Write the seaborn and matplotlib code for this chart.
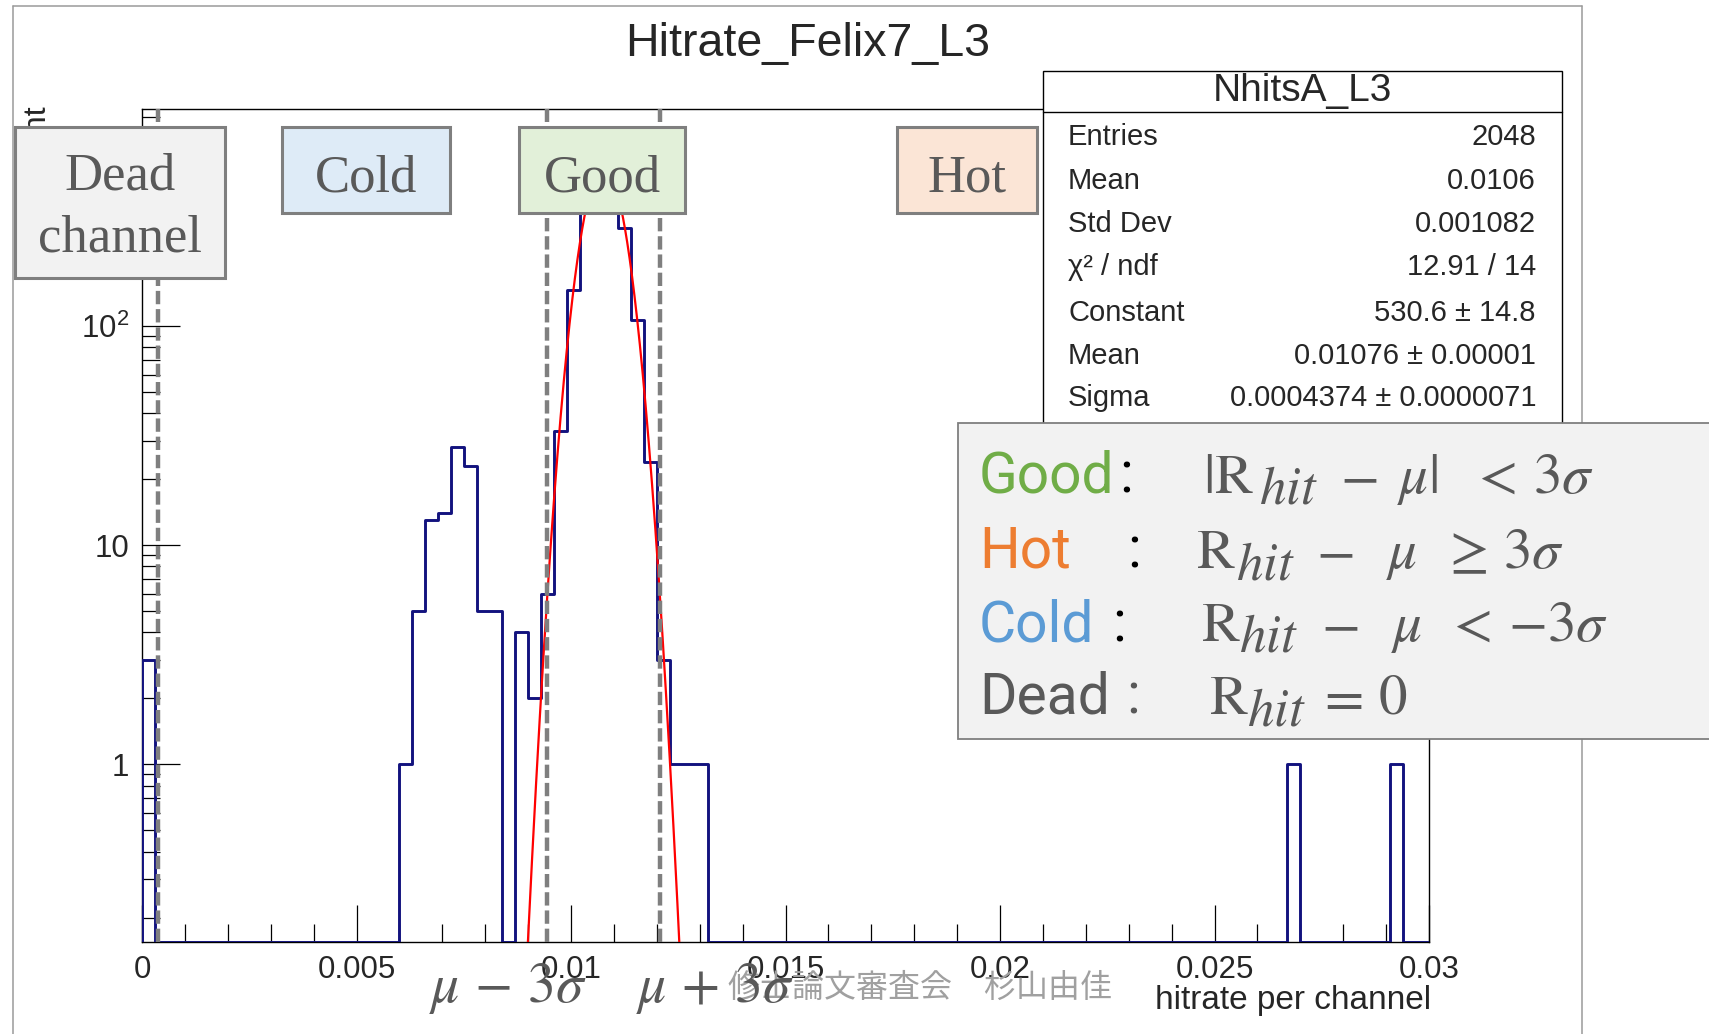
import numpy as np
import pandas as pd
import matplotlib
matplotlib.use("Agg")
import matplotlib.pyplot as plt
import seaborn as sns
from matplotlib.patches import Rectangle
from matplotlib.lines import Line2D
from matplotlib.ticker import FixedLocator, FixedFormatter, MultipleLocator, LogLocator, NullFormatter

# ---- histogram content: 100 bins of width 0.0003 on [0, 0.03]; only filled bins listed ----
bin_width = 0.0003
n_bins = 100
filled_bins = [0, 20, 21, 22, 23, 24, 25, 26, 27, 29, 30, 31, 32, 33, 34, 35, 36,
               37, 38, 39, 40, 41, 42, 43, 89, 97]
filled_counts = [3, 1, 5, 13, 14, 28, 23, 5, 5, 4, 2, 6, 33, 145, 345, 515, 483,
                 280, 106, 24, 3, 1, 1, 1, 1, 1]

# ---- gaussian fit result ----
fit_constant = 530.6
fit_mean = 0.01076
fit_sigma = 0.0004374
fit_range = (0.0089, 0.0127)
dead_cut = 0.00038

# ---- axis ticks ----
x_ticks = [0, 0.005, 0.01, 0.015, 0.02, 0.025, 0.03]
x_tick_labels = ["0", "0.005", "0.01", "0.015", "0.02", "0.025", "0.03"]
y_ticks = [1, 10, 100]
y_tick_labels = ["1", "10", r"$\mathregular{10^{2}}$"]
y_range = (0.155, 975)

# ---- stats box ----
stats_title = "NhitsA_L3"
stats_names = ["Entries", "Mean", "Std Dev", "χ² / ndf", "Constant", "Mean", "Sigma"]
stats_values = ["2048", "0.0106", "0.001082", "12.91 / 14", "530.6 ± 14.8",
                "0.01076 ± 0.00001", "0.0004374 ± 0.0000071"]

# ---- classification labels ----
class_names = ["Good", "Hot", "Cold", "Dead"]
class_colors = ["#70ad47", "#ed7d31", "#5b9bd5", "#595959"]
# each rule written as (symbol before the subscript, symbols after it)
class_rules = [
    [r"$|\mathrm{R}$", r"$-$", r"$\mu|$", r"$<$", r"$3\sigma$"],
    [r"$\mathrm{R}$", r"$-$", r"$\mu$", r"$\geq$", r"$3\sigma$"],
    [r"$\mathrm{R}$", r"$-$", r"$\mu$", r"$<$", r"$-3\sigma$"],
    [r"$\mathrm{R}$", r"$=$", r"$0$"],
]
rate_subscript = r"$hit$"

W, H = 1709, 1034


def fx(x):
    return x / W


def fy(y):
    return 1 - y / H


sns.set_theme(style="ticks")
plt.rcParams.update({
    "font.family": ["Liberation Sans", "DejaVu Sans"],
    "mathtext.fontset": "stix",
    "axes.linewidth": 1.0,
    "axes.edgecolor": "black",
    "figure.facecolor": "white",
    "axes.facecolor": "white",
})

fig = plt.figure(figsize=(W / 100, H / 100), dpi=100)
ax = fig.add_axes([fx(142), fy(942), fx(1429) - fx(142), fy(109) - fy(942)])

# histogram outline (empty bins sit on the frame bottom)
counts = np.zeros(n_bins)
counts[filled_bins] = filled_counts
edges = np.arange(n_bins + 1) * bin_width
shown = np.where(counts > 0, counts, y_range[0])
hist_df = pd.DataFrame({
    "hitrate": np.concatenate([[0.0], edges]),
    "entries": np.concatenate([[y_range[0]], shown, [y_range[0]]]),
})
sns.lineplot(data=hist_df, x="hitrate", y="entries", ax=ax, sort=False,
             estimator=None, drawstyle="steps-post", color="#12127e", lw=2.1, zorder=3)

# gaussian fit curve
xs = np.linspace(fit_range[0], fit_range[1], 400)
fit_df = pd.DataFrame({"hitrate": xs,
                       "entries": fit_constant * np.exp(-0.5 * ((xs - fit_mean) / fit_sigma) ** 2)})
sns.lineplot(data=fit_df, x="hitrate", y="entries", ax=ax, color="red", lw=1.6, zorder=4)

ax.set_yscale("log")
ax.set_xlim(0, 0.03)
ax.set_ylim(*y_range)

# threshold lines: dead cut and mu +/- 3 sigma
for xv in [dead_cut, fit_mean - 3 * fit_sigma, fit_mean + 3 * fit_sigma]:
    ax.axvline(xv, color="#7f7f7f", lw=3.2, dashes=(3.0, 1.1), zorder=5)

ax.xaxis.set_major_locator(FixedLocator(x_ticks))
ax.xaxis.set_major_formatter(FixedFormatter(x_tick_labels))
ax.xaxis.set_minor_locator(MultipleLocator(0.001))
ax.yaxis.set_major_locator(FixedLocator(y_ticks))
ax.yaxis.set_major_formatter(FixedFormatter(y_tick_labels))
ax.yaxis.set_minor_locator(LogLocator(base=10, subs=np.arange(2, 10)))
ax.yaxis.set_minor_formatter(NullFormatter())
ax.tick_params(which="both", direction="in", top=False, right=False, width=0.9, color="black")
ax.tick_params(which="major", length=27, labelsize=22.5, pad=9)
ax.tick_params(which="minor", length=13)
ax.set_xlabel("")
ax.set_ylabel("")
for sp in ax.spines.values():
    sp.set_linewidth(1.0)

# canvas border
for (x0, y0, x1, y1) in [(13, 5.5, 13, 1040), (13, 5.5, 1582, 5.5), (1582, 5.5, 1582, 1040)]:
    fig.add_artist(Line2D([fx(x0), fx(x1)], [fy(y0), fy(y1)], color="#9a9a9a", lw=1.1, zorder=1))

# title, axis titles
fig.text(fx(808), fy(44), "Hitrate_Felix7_L3", ha="center", va="center", fontsize=33.5)
fig.text(fx(1431), fy(1001), "hitrate per channel", ha="right", va="center", fontsize=24)
fig.text(fx(36), fy(104), "Count", rotation=90, ha="center", va="top", fontsize=23, zorder=2)

# stats box
fig.add_artist(Rectangle((fx(1043), fy(430)), fx(1562) - fx(1043), fy(71) - fy(430),
                         transform=fig.transFigure, facecolor="white", edgecolor="black",
                         lw=1.0, zorder=6))
fig.add_artist(Line2D([fx(1043), fx(1562)], [fy(112), fy(112)], color="black", lw=1.0, zorder=7))
fig.text(fx(1302), fy(91), stats_title, ha="center", va="center", fontsize=28, zorder=7)
row_y = [137, 181, 224.5, 267, 313, 356, 398]
for name, val, yy in zip(stats_names, stats_values, row_y):
    fig.text(fx(1068), fy(yy), name, ha="left", va="center", fontsize=21, zorder=7)
    fig.text(fx(1536), fy(yy), val, ha="right", va="center", fontsize=21, zorder=7)

# category tags above the histogram
tags = [(["Dead", "channel"], [189, 252], (15, 127, 225, 278), "#f2f2f2"),
        (["Cold"], [191], (282, 127, 450, 213), "#deebf7"),
        (["Good"], [191], (519, 127, 685, 213), "#e2f0d9"),
        (["Hot"], [191], (897, 127, 1037, 213), "#fbe5d6")]
for lines, bases, (x0, y0, x1, y1), bg in tags:
    fig.add_artist(Rectangle((fx(x0), fy(y1)), fx(x1) - fx(x0), fy(y0) - fy(y1),
                             transform=fig.transFigure, facecolor=bg, edgecolor="#7f7f7f",
                             lw=2.2, zorder=8))
    for line, yb in zip(lines, bases):
        fig.text(fx((x0 + x1) / 2), fy(yb), line, ha="center", va="baseline",
                 fontsize=38, family="Liberation Serif", color="#595959", zorder=9)

# classification rules box
fig.add_artist(Rectangle((fx(958), fy(739)), fx(1730) - fx(958), fy(423) - fy(739),
                         transform=fig.transFigure, facecolor="#f2f2f2", edgecolor="#7f7f7f",
                         lw=1.3, zorder=10))
rule_base = [493, 568, 641, 714]
colon_x = [1119, 1127, 1112, 1126]
colon_colors = ["black", "black", "black", "#595959"]
# x of each rule piece; the subscript sits after the first piece
piece_x = [[1203, 1340, 1397, 1470, 1533],
           [1196, 1316, 1386, 1441, 1503],
           [1201, 1321, 1391, 1445, 1508],
           [1209, 1316, 1378]]
sub_x = [1259, 1236, 1239, 1247]
for name, col, yb, cx, cc, pieces, pxs, sx in zip(class_names, class_colors, rule_base,
                                                  colon_x, colon_colors, class_rules,
                                                  piece_x, sub_x):
    fig.text(fx(979), fy(yb), name, ha="left", va="baseline", fontsize=41,
             family="Roboto", color=col, zorder=11)
    fig.text(fx(cx), fy(yb), ":", ha="left", va="baseline", fontsize=41,
             family="Roboto", color=cc, zorder=11)
    for piece, px in zip(pieces, pxs):
        fig.text(fx(px), fy(yb), piece, ha="left", va="baseline", fontsize=41,
                 color="#595959", zorder=11)
    fig.text(fx(sx), fy(yb + 11), rate_subscript, ha="left", va="baseline", fontsize=38,
             color="#595959", zorder=11)

# footer and threshold annotations under the axis
fig.text(fx(728), fy(988), "修士論文審査会　杉山由佳", ha="left", va="center", fontsize=23,
         family=["Noto Sans CJK JP", "DejaVu Sans"], color="#a0a0a0", zorder=11)
fig.text(fx(429), fy(1002), r"$\mu\,-\,\mathit{3}\sigma$", ha="left", va="baseline",
         fontsize=40, color="#595959", zorder=12)
fig.text(fx(636), fy(1002), r"$\mu\,+\,\mathit{3}\sigma$", ha="left", va="baseline",
         fontsize=40, color="#595959", zorder=12)

fig.savefig("out.png", dpi=100)
